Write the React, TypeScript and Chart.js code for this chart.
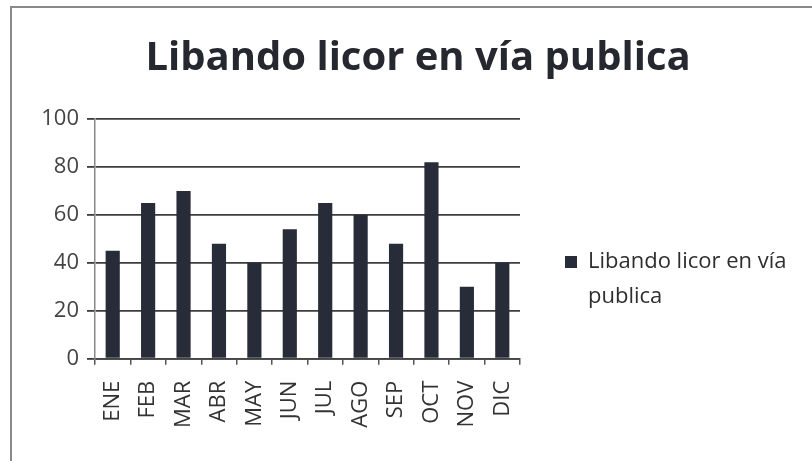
import { useEffect, useRef } from 'react';
import { Chart, registerables } from 'chart.js';

Chart.register(...registerables);

const TITLE = 'Libando licor en vía publica';
const SERIES_LABEL = ['Libando licor en vía', 'publica'];
const MONTHS = ['ENE', 'FEB', 'MAR', 'ABR', 'MAY', 'JUN', 'JUL', 'AGO', 'SEP', 'OCT', 'NOV', 'DIC'];
const VALUES = [45, 65, 70, 48, 40, 54, 65, 60, 48, 82, 30, 40];
const Y_MIN = 0;
const Y_MAX = 100;
const Y_STEP = 20;

const BAR_COLOR = '#282c38';
const TEXT_COLOR = '#2e2e2e';
const FONT = "'Open Sans', 'Noto Sans', sans-serif";
const W = 812;
const PAD_LEFT = 35;
const PAD_RIGHT = 11;
const AXIS_X = 95;
const PLOT_RIGHT = 520;
const LEGEND_WIDTH = W - PAD_RIGHT - PLOT_RIGHT;

// Chart.js caps a side legend at a quarter of the width; give it the room it needs.
const legendWidthPlugin = {
  id: 'legendWidth',
  beforeLayout(chart: any) {
    const lg = chart.legend;
    if (lg && !lg.__fixedWidth) {
      const fit = lg.fit.bind(lg);
      lg.fit = function () {
        fit();
        this.width = LEGEND_WIDTH;
      };
      lg.__fixedWidth = true;
    }
  },
};

export default function App() {
  const ref = useRef<HTMLCanvasElement>(null);

  useEffect(() => {
    if (!ref.current) return;
    const chart = new Chart(ref.current, {
      type: 'bar',
      data: {
        labels: MONTHS,
        datasets: [
          {
            label: SERIES_LABEL.join(' '),
            data: VALUES,
            backgroundColor: BAR_COLOR,
            borderWidth: 0,
            barPercentage: 0.8,
            categoryPercentage: 0.5,
          },
        ],
      },
      plugins: [legendWidthPlugin],
      options: {
        animation: false,
        responsive: false,
        devicePixelRatio: 1,
        layout: { padding: { left: PAD_LEFT, right: PAD_RIGHT, top: 10, bottom: 17 } },
        plugins: {
          title: {
            display: true,
            text: TITLE,
            color: '#25282f',
            font: { family: FONT, size: 40, weight: 'bold' },
            padding: { top: 25, bottom: 36 },
          },
          legend: {
            display: true,
            position: 'right',
            align: 'center',
            title: {
              display: true,
              text: '',
              color: TEXT_COLOR,
              font: { size: 12 },
              padding: { top: 104, bottom: 0 },
            },
            labels: {
              boxWidth: 12,
              boxHeight: 12,
              padding: 45,
              color: TEXT_COLOR,
              font: { family: FONT, size: 22, lineHeight: 1.6 },
              generateLabels: () => [
                {
                  text: SERIES_LABEL as unknown as string,
                  fillStyle: BAR_COLOR,
                  strokeStyle: BAR_COLOR,
                  fontColor: TEXT_COLOR,
                  lineWidth: 0,
                  hidden: false,
                  datasetIndex: 0,
                },
              ],
            },
          },
          tooltip: { enabled: false },
        },
        scales: {
          x: {
            offset: true,
            grid: {
              display: true,
              drawOnChartArea: false,
              offset: true,
              tickLength: 6,
              color: '#555',
              lineWidth: 1.5,
            },
            border: { color: '#444', width: 1.8 },
            ticks: {
              minRotation: 90,
              maxRotation: 90,
              padding: 16,
              color: '#333',
              font: { family: FONT, size: 22 },
            },
          },
          y: {
            min: Y_MIN,
            max: Y_MAX,
            afterFit: (scale: any) => {
              scale.width = AXIS_X - PAD_LEFT;
            },
            ticks: {
              stepSize: Y_STEP,
              padding: 8,
              color: '#444',
              font: { family: FONT, size: 22 },
            },
            grid: {
              color: '#3c3c3c',
              lineWidth: 1.8,
              tickLength: 8,
            },
            border: { color: '#888', width: 1.5 },
          },
        },
      },
    });
    return () => chart.destroy();
  }, []);

  return (
    <div style={{ position: 'fixed', left: 0, top: 0, width: W, height: 461, background: '#fff' }}>
      <div
        style={{
          position: 'absolute',
          left: 10,
          top: 6,
          right: 0,
          bottom: 0,
          borderLeft: '2px solid #8a8a8a',
          borderTop: '2px solid #8a8a8a',
        }}
      />
      <canvas ref={ref} width={W} height={461} style={{ position: 'absolute', left: 0, top: 0 }} />
    </div>
  );
}
